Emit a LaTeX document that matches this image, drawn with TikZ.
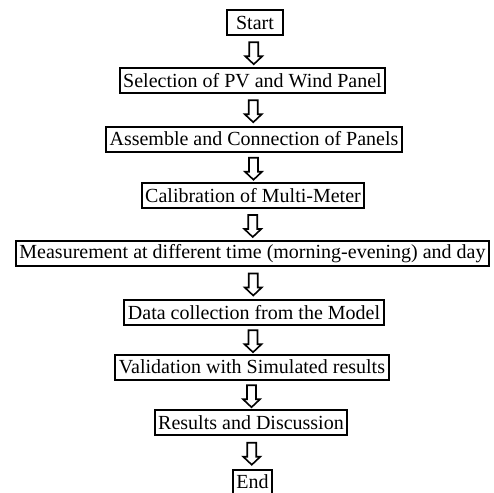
\documentclass[tikz,border=0pt]{standalone}
\usepackage{fontspec}
\setmainfont{Liberation Serif}
\usetikzlibrary{calc}
\tikzset{box/.style={draw,line width=2pt,inner xsep=3.5pt,inner ysep=0pt,minimum height=25pt,font=\fontsize{20}{24}\selectfont},
	flowarrow/.style={draw,line width=1.6pt,line join=miter}}
\newcommand{\blockarrow}[2]{\draw[flowarrow] ($(#1.south)!0.5!(#2.north)+(0,-9.5)$) ++(-4.5,0) -- ++(9,0) -- ++(0,14) -- ++(4,0) -- ++(-8.5,8) -- ++(-8.5,-8) -- ++(4,0) -- cycle;}
\begin{document}
\begin{tikzpicture}[x=1pt,y=-1pt]
	\fill[white] (0,0) rectangle (494,492);
	\useasboundingbox (0,0) rectangle (494,492);
	\node[box,minimum width=56pt] (start) at (255,23) {Start};
	\node[box] (select) at (252.5,80.5) {Selection of PV and Wind Panel};
	\node[box] (assemble) at (254,139) {Assemble and Connection of Panels};
	\node[box] (calib) at (253,195.5) {Calibration of Multi-Meter};
	\node[box] (measure) at (252.5,253.5) {Measurement at different time (morning-evening) and day};
	\node[box] (data) at (254,312.5) {Data collection from the Model};
	\node[box] (valid) at (252,367) {Validation with Simulated results};
	\node[box] (results) at (251,422.5) {Results and Discussion};
	\node[box] (stop) at (252.5,482) {End};
	\blockarrow{start}{select}
	\blockarrow{select}{assemble}
	\blockarrow{assemble}{calib}
	\blockarrow{calib}{measure}
	\blockarrow{measure}{data}
	\blockarrow{data}{valid}
	\blockarrow{valid}{results}
	\blockarrow{results}{stop}
\end{tikzpicture}
\end{document}
